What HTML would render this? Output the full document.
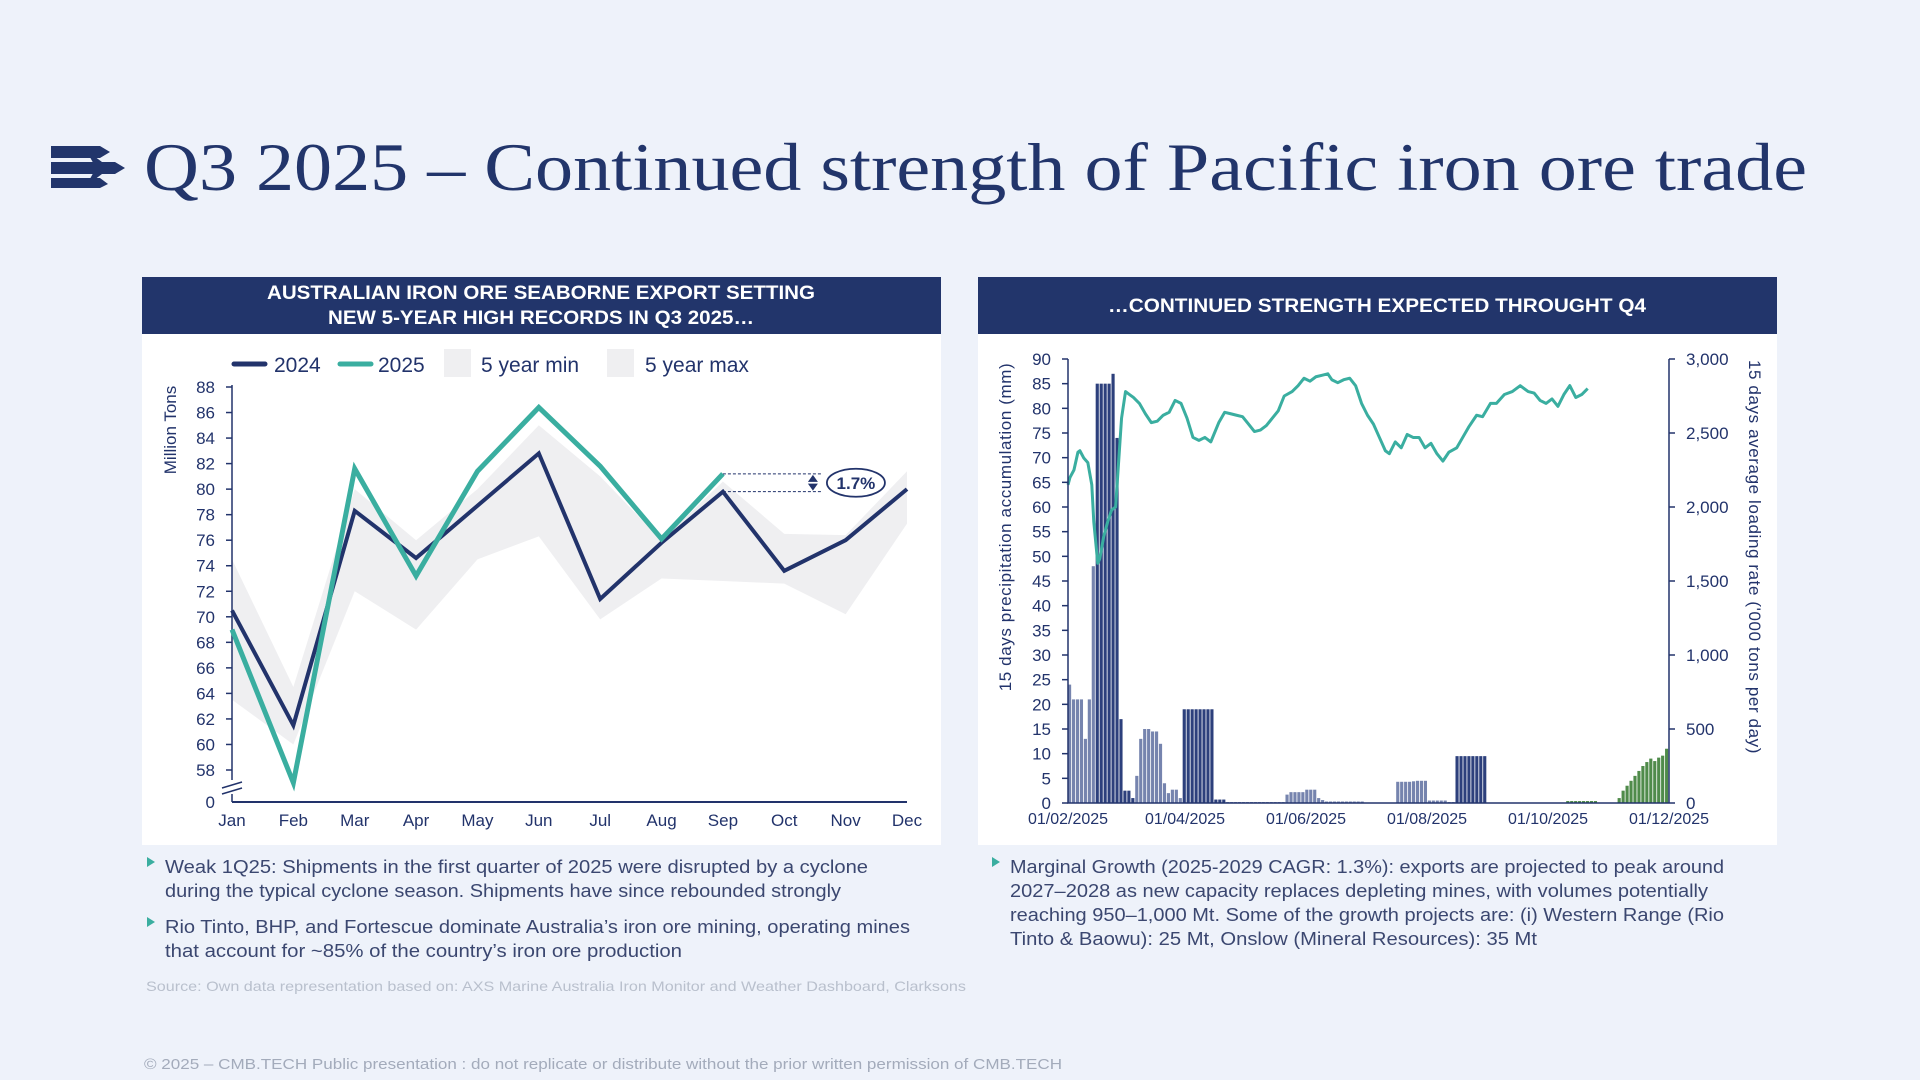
<!DOCTYPE html>
<html><head><meta charset="utf-8"><title>Q3 2025 – Pacific iron ore trade</title>
<style>
html,body{margin:0;padding:0;background:#eef2fa;}
svg{display:block;font-family:"Liberation Sans",sans-serif;}
</style></head>
<body>
<svg id="page" width="1920" height="1080" viewBox="0 0 1920 1080" xmlns="http://www.w3.org/2000/svg">
<rect x="0" y="0" width="1920" height="1080" fill="#eef2fa"/>
<g fill="#22356b">
<polygon points="51,146 100,146 110,152 100,158 51,158"/>
<polygon points="51,162 115,162 125,168 115,174 51,174"/>
<polygon points="51,178 100,178 108,184 100,188 51,188"/>
<polygon points="86,150 110,168 86,186 96,168" fill="#22356b"/>
</g>
<text x="144" y="190" font-family="'Liberation Serif',serif" font-size="68" fill="#22356b" textLength="1663" lengthAdjust="spacingAndGlyphs">Q3 2025 – Continued strength of Pacific iron ore trade</text>

<!-- Left panel -->
<rect x="142" y="277" width="799" height="57" fill="#22356b"/>
<text x="541" y="299" text-anchor="middle" font-size="19" font-weight="bold" fill="#fff" textLength="548" lengthAdjust="spacingAndGlyphs">AUSTRALIAN IRON ORE SEABORNE EXPORT SETTING</text>
<text x="541" y="324" text-anchor="middle" font-size="19" font-weight="bold" fill="#fff" textLength="426" lengthAdjust="spacingAndGlyphs">NEW 5-YEAR HIGH RECORDS IN Q3 2025…</text>
<rect x="142" y="334" width="799" height="511" fill="#ffffff"/>
<g id="leftChart"></g>

<!-- Right panel -->
<rect x="978" y="277" width="799" height="57" fill="#22356b"/>
<text x="1377" y="312" text-anchor="middle" font-size="19" font-weight="bold" fill="#fff" textLength="538" lengthAdjust="spacingAndGlyphs">…CONTINUED STRENGTH EXPECTED THROUGHT Q4</text>
<rect x="978" y="334" width="799" height="511" fill="#ffffff"/>
<g id="rightChart"></g>

<!-- Bullets -->
<g font-size="18" fill="#3b4770">
<polygon points="147,857 155,862 147,867" fill="#3aaea0"/>
<text x="165" y="873" textLength="703" lengthAdjust="spacingAndGlyphs">Weak 1Q25: Shipments in the first quarter of 2025 were disrupted by a cyclone</text>
<text x="165" y="897" textLength="676" lengthAdjust="spacingAndGlyphs">during the typical cyclone season. Shipments have since rebounded strongly</text>
<polygon points="147,917 155,922 147,927" fill="#3aaea0"/>
<text x="165" y="933" textLength="745" lengthAdjust="spacingAndGlyphs">Rio Tinto, BHP, and Fortescue dominate Australia’s iron ore mining, operating mines</text>
<text x="165" y="957" textLength="517" lengthAdjust="spacingAndGlyphs">that account for ~85% of the country’s iron ore production</text>
</g>
<g font-size="18" fill="#3b4770">
<polygon points="992,857 1000,862 992,867" fill="#3aaea0"/>
<text x="1010" y="873" textLength="714" lengthAdjust="spacingAndGlyphs">Marginal Growth (2025-2029 CAGR: 1.3%): exports are projected to peak around</text>
<text x="1010" y="897" textLength="698" lengthAdjust="spacingAndGlyphs">2027–2028 as new capacity replaces depleting mines, with volumes potentially</text>
<text x="1010" y="921" textLength="714" lengthAdjust="spacingAndGlyphs">reaching 950–1,000 Mt. Some of the growth projects are: (i) Western Range (Rio</text>
<text x="1010" y="945" textLength="527" lengthAdjust="spacingAndGlyphs">Tinto &amp; Baowu): 25 Mt, Onslow (Mineral Resources): 35 Mt</text>
</g>
<text x="146" y="991" font-size="14" fill="#b9c0cd" textLength="820" lengthAdjust="spacingAndGlyphs">Source:  Own data representation based on: AXS Marine Australia Iron Monitor and Weather Dashboard, Clarksons</text>
<text x="144" y="1069" font-size="15" fill="#a3abbb" textLength="918" lengthAdjust="spacingAndGlyphs">© 2025 – CMB.TECH Public presentation : do not replicate or distribute without the prior written permission of CMB.TECH</text>
</svg>

<script>
// ---------- Left chart data ----------
const months = ["Jan","Feb","Mar","Apr","May","Jun","Jul","Aug","Sep","Oct","Nov","Dec"];
const exports2024 = [70.5,61.5,78.3,74.6,78.7,82.8,71.4,75.8,79.8,73.6,76.0,80.0];
const exports2025 = [69.0,57.0,81.6,73.2,81.4,86.4,81.8,76.1,81.2];
const fiveYearMin = [63.5,60.0,72.0,69.0,74.5,76.3,69.8,73.0,72.8,72.6,70.2,77.3];
const fiveYearMax = [74.5,64.5,80.0,76.0,80.0,85.0,81.0,76.0,80.6,76.5,76.4,81.4];
const leftYTicks = [58,60,62,64,66,68,70,72,74,76,78,80,82,84,86,88];
const growthLabel = "1.7%";

// ---------- Right chart data ----------
const rainBins = [24,21,21,21,13,21,48,85,85,85,85,87,74,17,2.5,2.5,1,5.5,13,15,15,14.5,14.5,12,4,2,2.7,2.7,1,19,19,19,19,19,19,19,19,0.7,0.7,0.7,
0.2,0.2,0.2,0.2,0.2,0.2,0.2,0.2,0.2,0.2,0.2,0.2,0.2,0.2,0.2,1.7,2.2,2.2,2.2,2.2,2.7,2.7,2.7,1,0.6,0.3,0.3,0.3,0.3,0.3,0.3,0.3,0.3,0.3,0.3,
0.05,0.05,0.05,0.05,0.05,0.05,0.05,0.05,4.3,4.3,4.3,4.3,4.4,4.5,4.5,4.5,0.5,0.5,0.5,0.5,0.5,0.2,0.2,9.5,9.5,9.5,9.5,9.5,9.5,9.5,9.5,
0.05,0.05,0.05,0.05,0.05,0.05,0.05,0.05,0.05,0.05,0.05,0.05,0.05,0.05,0.05,0.05,0.05,0.05,0.05,0.05,
0.4,0.4,0.4,0.4,0.4,0.4,0.4,0.4,0.1,0.1,0.1,0.1,0.1,1,2.5,3.5,4.5,5.5,6.5,7.5,8.3,9,8.5,9.2,9.6,11];
const rainTone = [0,0,0,0,0,0,0,1,1,1,1,1,1,1,1,1,1,0,0,0,0,0,0,0,0,0,0,0,0,1,1,1,1,1,1,1,1,1,1,1,
0,0,0,0,0,0,0,0,0,0,0,0,0,0,0,0,0,0,0,0,0,0,0,0,0,0,0,0,0,0,0,0,0,0,0,
0,0,0,0,0,0,0,0,0,0,0,0,0,0,0,0,0,0,0,0,0,0,0,1,1,1,1,1,1,1,1,
0,0,0,0,0,0,0,0,0,0,0,0,0,0,0,0,0,0,0,0,
2,2,2,2,2,2,2,2,2,2,2,2,2,2,2,2,2,2,2,2,2,2,2,2,2,2];
const loadDays = [0,1,3,5,6,8,10,12,13,15,16,18,20,22,24,25,27,29,31,33,36,39,42,45,48,51,54,57,60,63,66,69,72,76,79,82,85,88,91,94,97,100,103,106,109,113,116,119,122,125,128,131,133,136,139,142,145,148,151,154,157,160,162,165,168,171,174,177,180,183,186,189,192,196,199,202,206,209,213,216,220,224,228,232,235,238,241,244,247,250,253,256,259,262];
const loadRate = [2150,2200,2250,2370,2380,2330,2300,2150,1900,1620,1650,1800,1900,1980,2000,2200,2600,2780,2760,2740,2700,2630,2570,2580,2620,2640,2720,2700,2600,2470,2450,2470,2440,2570,2640,2630,2620,2610,2560,2510,2520,2550,2600,2650,2750,2780,2820,2870,2850,2880,2890,2900,2860,2840,2860,2870,2820,2700,2620,2560,2470,2380,2360,2440,2400,2490,2470,2470,2400,2430,2360,2310,2370,2400,2470,2540,2620,2610,2700,2700,2760,2780,2820,2780,2770,2720,2700,2730,2680,2760,2820,2740,2760,2800];
const rainTicks = [0,5,10,15,20,25,30,35,40,45,50,55,60,65,70,75,80,85,90];
const rateTicks = [0,500,1000,1500,2000,2500,3000];
const dateTickDays = [0,59,120,181,242,303];
const dateTickLabels = ["01/02/2025","01/04/2025","01/06/2025","01/08/2025","01/10/2025","01/12/2025"];

const NS = "http://www.w3.org/2000/svg";
function mk(parent, tag, attrs, text){
  const e = document.createElementNS(NS, tag);
  for (const k in attrs) e.setAttribute(k, attrs[k]);
  if (text !== undefined) e.textContent = text;
  parent.appendChild(e);
  return e;
}
const NAVY = "#22336b", TEAL = "#3aaea0";

// ---------- Left chart ----------
(function(){
  const g = document.getElementById("leftChart");
  const x0 = 232, x1 = 907;
  const yTop = 387, yLow = 770, yZero = 802;
  const xS = i => x0 + i * (x1 - x0) / (months.length - 1);
  const yS = v => yLow - (v - 58) * (yLow - yTop) / 30;

  // band
  let pts = fiveYearMax.map((v,i)=>xS(i)+","+yS(v));
  for (let i = fiveYearMin.length - 1; i >= 0; i--) pts.push(xS(i)+","+yS(fiveYearMin[i]));
  const band = mk(g, "polygon", {points: pts.join(" "), fill: "#efeff1"});
  
  

  // y axis ticks
  leftYTicks.forEach(t=>{
    const tk = mk(g, "line", {x1: x0-6, x2: x0, y1: yS(t), y2: yS(t), stroke: NAVY, "stroke-width": 1.5});
    
    
    const lb = mk(g, "text", {x: 215, y: yS(t)+6, "text-anchor": "end", "font-size": 17, fill: NAVY}, String(t));
    
    
  });
  const z = mk(g, "text", {x: 215, y: yZero+6, "text-anchor": "end", "font-size": 17, fill: NAVY}, "0");
  
  
  const ya = mk(g, "path", {d: `M${x0},${yTop-2} L${x0},${yLow+10} M${x0},${yZero-8} L${x0},${yZero}`, stroke: NAVY, "stroke-width": 1.5, fill: "none"});
  
  
  const br = mk(g, "path", {d: `M${x0-10},${yLow+18} L${x0+10},${yLow+12} M${x0-10},${yLow+24} L${x0+10},${yLow+18}`, stroke: NAVY, "stroke-width": 1.5});
  
  
  const xa = mk(g, "line", {x1: x0, x2: x1, y1: yZero, y2: yZero, stroke: NAVY, "stroke-width": 2});
  
  
  months.forEach((m,i)=>{
    const t = mk(g, "text", {x: xS(i), y: 826, "text-anchor": "middle", "font-size": 17, fill: NAVY}, m);
    
    
  });
  const yt = mk(g, "text", {x: 0, y: 0, transform: `translate(176,430) rotate(-90)`, "text-anchor": "middle", "font-size": 17, fill: NAVY}, "Million Tons");
  
  

  const l24 = mk(g, "polyline", {points: exports2024.map((v,i)=>xS(i)+","+yS(v)).join(" "), fill: "none", stroke: NAVY, "stroke-width": 4, "stroke-linejoin": "miter"});
  
  
  const l25 = mk(g, "polyline", {points: exports2025.map((v,i)=>xS(i)+","+yS(v)).join(" "), fill: "none", stroke: TEAL, "stroke-width": 5, "stroke-linejoin": "miter"});
  
  

  // annotation
  const si = exports2025.length - 1;
  const ya1 = yS(exports2025[si]), ya2 = yS(exports2024[si]);
  const ann = mk(g, "path", {d: `M${xS(si)},${ya1} L${xS(si)+98},${ya1} M${xS(si)},${ya2} L${xS(si)+98},${ya2}`, stroke: NAVY, "stroke-width": 1, "stroke-dasharray": "3,2"});
  
  
  const ax = xS(si) + 90;
  const arr = mk(g, "path", {d: `M${ax},${ya1+1} L${ax-5},${ya1+8} L${ax+5},${ya1+8} Z M${ax},${ya2-1} L${ax-5},${ya2-8} L${ax+5},${ya2-8} Z`, fill: NAVY});
  
  
  const ym = (ya1+ya2)/2;
  const el = mk(g, "ellipse", {cx: xS(si)+133, cy: ym, rx: 29, ry: 14, fill: "#fff", stroke: NAVY, "stroke-width": 1.8});
  
  
  const et = mk(g, "text", {x: xS(si)+133, y: ym+6, "text-anchor": "middle", "font-size": 17, "font-weight": "bold", fill: NAVY}, growthLabel);
  
  

  // legend
  const lg = mk(g, "g", {"font-size": 21, fill: NAVY});
  
  
  const items = [
    {type:"line", c:NAVY, x:234, w:31, tx:274, label:"2024", n:"legend-entry-2024"},
    {type:"line", c:TEAL, x:340, w:31, tx:378, label:"2025", n:"legend-entry-2025"},
    {type:"box", c:"#efeff1", x:444, w:27, tx:481, label:"5 year min", n:"legend-entry-5y-min"},
    {type:"box", c:"#efeff1", x:607, w:27, tx:645, label:"5 year max", n:"legend-entry-5y-max"}];
  items.forEach(it=>{
    const ig = mk(lg, "g", {});
    
    
    if (it.type === "line") mk(ig, "line", {x1: it.x, x2: it.x+it.w, y1: 364, y2: 364, stroke: it.c, "stroke-width": 5, "stroke-linecap": "round"});
    else mk(ig, "rect", {x: it.x, y: 349, width: it.w, height: 28, fill: it.c});
    mk(ig, "text", {x: it.tx, y: 372}, it.label);
  });
})();

// ---------- Right chart ----------
(function(){
  const g = document.getElementById("rightChart");
  const x0 = 1068, x1 = 1669, yTop = 359, yBot = 803;
  const dayMax = 303;
  const xS = d => x0 + d * (x1 - x0) / dayMax;
  const yL = v => yBot - v * (yBot - yTop) / 90;
  const yR = v => yBot - v * (yBot - yTop) / 3000;
  const tones = ["#7684ae", "#2d407c", "#4f8b4a"];
  const binDays = dayMax / rainBins.length;

  rainBins.forEach((v,i)=>{
    const bx = xS(i*binDays), bw = xS((i+1)*binDays) - bx - 0.8;
    const r = mk(g, "rect", {x: bx, y: yL(v), width: Math.max(bw,0.5), height: yBot - yL(v), fill: tones[rainTone[i]]});
    
    
  });

  const pl = mk(g, "polyline", {points: loadDays.map((d,i)=>xS(d)+","+yR(loadRate[i])).join(" "), fill: "none", stroke: TEAL, "stroke-width": 3, "stroke-linejoin": "round"});
  
  

  const ax = mk(g, "path", {d: `M${x0},${yTop} L${x0},${yBot} L${x1},${yBot} M${x1},${yTop} L${x1},${yBot}`, stroke: NAVY, "stroke-width": 1.5, fill: "none"});
  
  

  rainTicks.forEach(t=>{
    const tk = mk(g, "line", {x1: x0-6, x2: x0, y1: yL(t), y2: yL(t), stroke: NAVY, "stroke-width": 1.5});
    
    
    const lb = mk(g, "text", {x: 1051, y: yL(t)+6, "text-anchor": "end", "font-size": 17, fill: NAVY}, String(t));
    
    
  });
  rateTicks.forEach(t=>{
    const tk = mk(g, "line", {x1: x1, x2: x1+6, y1: yR(t), y2: yR(t), stroke: NAVY, "stroke-width": 1.5});
    
    
    const lb = mk(g, "text", {x: 1686, y: yR(t)+6, "font-size": 17, fill: NAVY}, t.toLocaleString("en-US"));
    
    
  });
  dateTickDays.forEach((d,i)=>{
    const lb = mk(g, "text", {x: xS(d), y: 824, "text-anchor": "middle", "font-size": 16, fill: NAVY}, dateTickLabels[i]);
    
    
  });
  const lt = mk(g, "text", {transform: "translate(1011,527) rotate(-90)", "text-anchor": "middle", "font-size": 17, fill: NAVY, "letter-spacing": "0.6"}, "15 days precipitation accumulation (mm)");
  
  
  const rt = mk(g, "text", {transform: "translate(1749,557) rotate(90)", "text-anchor": "middle", "font-size": 17, fill: NAVY, "letter-spacing": "0.6"}, "15 days average loading rate ('000 tons per day)");
  
  
})();
</script>
</body></html>
